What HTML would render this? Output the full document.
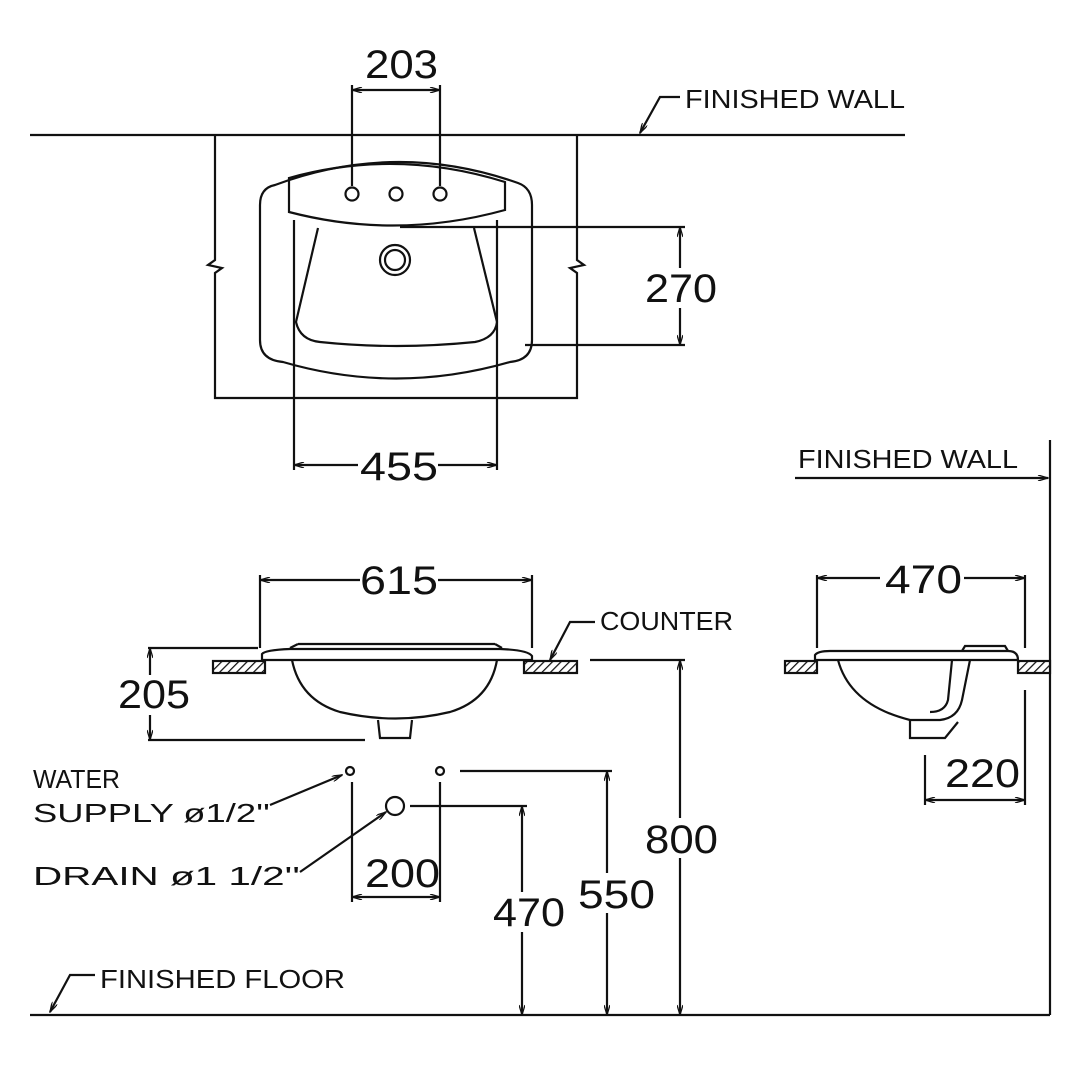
<!DOCTYPE html>
<html><head><meta charset="utf-8"><style>
html,body{margin:0;padding:0;background:#fff}
svg{display:block}
text{font-family:"Liberation Sans",sans-serif;fill:#111}
.d{font-size:40px}
.l{font-size:26px}
</style></head><body>
<svg width="1090" height="1090" viewBox="0 0 1090 1090" xmlns="http://www.w3.org/2000/svg">
<defs>
<marker id="a" viewBox="0 0 10 6" refX="10" refY="3" markerWidth="12" markerHeight="6" orient="auto-start-reverse" markerUnits="userSpaceOnUse"><path d="M0,0 L10,3 L0,6" fill="none" stroke="#111" stroke-width="1.3"/></marker>
<pattern id="h" width="6" height="6" patternUnits="userSpaceOnUse" patternTransform="rotate(45)"><rect width="6" height="6" fill="#fff"/><line x1="0" y1="0" x2="0" y2="6" stroke="#111" stroke-width="2.5"/></pattern>
</defs>
<g stroke="#111" stroke-width="2.2" fill="none">
<line x1="30" y1="135" x2="905" y2="135"/>
<polyline points="640,133 660,97 680,97" marker-start="url(#a)"/>
<line x1="352" y1="85" x2="352" y2="186"/><line x1="440" y1="85" x2="440" y2="186"/>
<line x1="352" y1="90" x2="440" y2="90" marker-start="url(#a)" marker-end="url(#a)"/>
<polyline points="215,135 215,260 208,265 222,268 215,273 215,398 577,398 577,273 570,268 584,265 577,260 577,135"/>
<path d="M275,185 Q396,140 518,183 Q532,188 532,205 L532,340 Q532,360 510,362 Q396,395 283,362 Q260,360 260,340 L260,205 Q260,188 275,185 Z"/>
<path d="M289,178 Q396,148 505,182 L505,210 Q396,240 289,212 Z"/>
<line x1="294" y1="220" x2="294" y2="330"/><line x1="497" y1="220" x2="497" y2="330"/>
<path d="M318,228 L296,322 Q300,340 320,342 Q396,350 475,342 Q495,338 497,322 L474,228"/>
<circle cx="352" cy="194" r="6.5"/><circle cx="396" cy="194" r="6.5"/><circle cx="440" cy="194" r="6.5"/>
<circle cx="395" cy="260" r="15"/><circle cx="395" cy="260" r="10"/>
<line x1="400" y1="227" x2="685" y2="227"/><line x1="525" y1="345" x2="685" y2="345"/>
<line x1="680" y1="227" x2="680" y2="345" marker-start="url(#a)" marker-end="url(#a)"/>
<line x1="294" y1="330" x2="294" y2="470"/><line x1="497" y1="330" x2="497" y2="470"/>
<line x1="294" y1="465" x2="497" y2="465" marker-start="url(#a)" marker-end="url(#a)"/>
<line x1="260" y1="575" x2="260" y2="648"/><line x1="532" y1="575" x2="532" y2="648"/>
<line x1="260" y1="580" x2="532" y2="580" marker-start="url(#a)" marker-end="url(#a)"/>
<rect x="213" y="661" width="52" height="12" fill="url(#h)"/>
<rect x="524" y="661" width="53" height="12" fill="url(#h)"/>
<path d="M262,660 L262,654 Q265,650 290,649 L500,649 Q528,650 532,656 L532,660 Z"/>
<line x1="290" y1="648" x2="298" y2="644"/><line x1="298" y1="644" x2="495" y2="644"/><line x1="495" y1="644" x2="502" y2="648"/>
<path d="M292,660 Q300,700 340,712 Q396,725 450,712 Q490,700 497,660"/>
<polyline points="378,720 380,738 410,738 412,720"/>
<line x1="148" y1="648" x2="258" y2="648"/><line x1="148" y1="740" x2="365" y2="740"/>
<line x1="150" y1="648" x2="150" y2="740" marker-start="url(#a)" marker-end="url(#a)"/>
<polyline points="550,660 570,622 595,622" marker-start="url(#a)"/>
<line x1="590" y1="660" x2="685" y2="660"/>
<line x1="680" y1="660" x2="680" y2="1015" marker-start="url(#a)" marker-end="url(#a)"/>
<circle cx="350" cy="771" r="4"/><circle cx="440" cy="771" r="4"/><circle cx="395" cy="806" r="9"/>
<line x1="270" y1="805" x2="342" y2="775" marker-end="url(#a)"/>
<line x1="300" y1="872" x2="386" y2="812" marker-end="url(#a)"/>
<line x1="352" y1="782" x2="352" y2="902"/><line x1="440" y1="782" x2="440" y2="902"/>
<line x1="352" y1="897" x2="440" y2="897" marker-start="url(#a)" marker-end="url(#a)"/>
<line x1="460" y1="771" x2="612" y2="771"/>
<line x1="607" y1="771" x2="607" y2="1015" marker-start="url(#a)" marker-end="url(#a)"/>
<line x1="410" y1="806" x2="527" y2="806"/>
<line x1="522" y1="806" x2="522" y2="1015" marker-start="url(#a)" marker-end="url(#a)"/>
<line x1="30" y1="1015" x2="1050" y2="1015"/>
<polyline points="50,1012 70,975 95,975" marker-start="url(#a)"/>
<line x1="1050" y1="440" x2="1050" y2="1015"/>
<line x1="795" y1="478" x2="1048" y2="478" marker-end="url(#a)"/>
<line x1="817" y1="575" x2="817" y2="648"/><line x1="1025" y1="575" x2="1025" y2="648"/>
<line x1="817" y1="578" x2="1025" y2="578" marker-start="url(#a)" marker-end="url(#a)"/>
<rect x="785" y="661" width="32" height="12" fill="url(#h)"/>
<rect x="1018" y="661" width="32" height="12" fill="url(#h)"/>
<path d="M815,660 L815,655 Q818,651 830,651 L1008,651 Q1018,651 1018,660 Z"/>
<polyline points="962,651 965,646 1005,646 1008,651"/>
<path d="M838,660 Q850,705 910,720 L940,720 Q958,718 962,700 L970,660"/>
<path d="M952,660 L948,700 Q945,712 930,712"/>
<polyline points="910,720 910,738 945,738 958,722"/>
<line x1="925" y1="755" x2="925" y2="805"/><line x1="1025" y1="690" x2="1025" y2="805"/>
<line x1="925" y1="800" x2="1025" y2="800" marker-start="url(#a)" marker-end="url(#a)"/>
</g>
<g>
<rect x="645" y="268" width="72" height="40" fill="#fff"/>
<rect x="358" y="450" width="80" height="34" fill="#fff"/>
<rect x="360" y="565" width="78" height="30" fill="#fff"/>
<rect x="880" y="563" width="84" height="30" fill="#fff"/>
<rect x="360" y="858" width="78" height="34" fill="#fff"/>
<rect x="640" y="818" width="80" height="40" fill="#fff"/>
<rect x="575" y="873" width="84" height="40" fill="#fff"/>
<rect x="490" y="892" width="80" height="40" fill="#fff"/>
<rect x="115" y="675" width="80" height="40" fill="#fff"/>
</g>
<text class="d" x="365" y="78" textLength="73" lengthAdjust="spacingAndGlyphs">203</text>
<text class="d" x="645" y="302" textLength="72" lengthAdjust="spacingAndGlyphs">270</text>
<text class="d" x="360" y="480" textLength="78" lengthAdjust="spacingAndGlyphs">455</text>
<text class="d" x="360" y="594" textLength="78" lengthAdjust="spacingAndGlyphs">615</text>
<text class="d" x="885" y="593" textLength="77" lengthAdjust="spacingAndGlyphs">470</text>
<text class="d" x="945" y="787" textLength="75" lengthAdjust="spacingAndGlyphs">220</text>
<text class="d" x="118" y="708" textLength="72" lengthAdjust="spacingAndGlyphs">205</text>
<text class="d" x="365" y="887" textLength="75" lengthAdjust="spacingAndGlyphs">200</text>
<text class="d" x="645" y="853" textLength="73" lengthAdjust="spacingAndGlyphs">800</text>
<text class="d" x="578" y="908" textLength="77" lengthAdjust="spacingAndGlyphs">550</text>
<text class="d" x="493" y="926" textLength="72" lengthAdjust="spacingAndGlyphs">470</text>
<text class="l" x="685" y="108" textLength="220" lengthAdjust="spacingAndGlyphs">FINISHED  WALL</text>
<text class="l" x="798" y="468" textLength="220" lengthAdjust="spacingAndGlyphs">FINISHED  WALL</text>
<text class="l" x="600" y="630" textLength="133" lengthAdjust="spacingAndGlyphs">COUNTER</text>
<text class="l" x="100" y="988" textLength="245" lengthAdjust="spacingAndGlyphs">FINISHED  FLOOR</text>
<text class="l" x="33" y="788" textLength="87" lengthAdjust="spacingAndGlyphs">WATER</text>
<text class="l" x="33" y="822" textLength="237" lengthAdjust="spacingAndGlyphs">SUPPLY ø1/2''</text>
<text class="l" x="33" y="885" textLength="267" lengthAdjust="spacingAndGlyphs">DRAIN ø1   1/2''</text>
</svg>
</body></html>
